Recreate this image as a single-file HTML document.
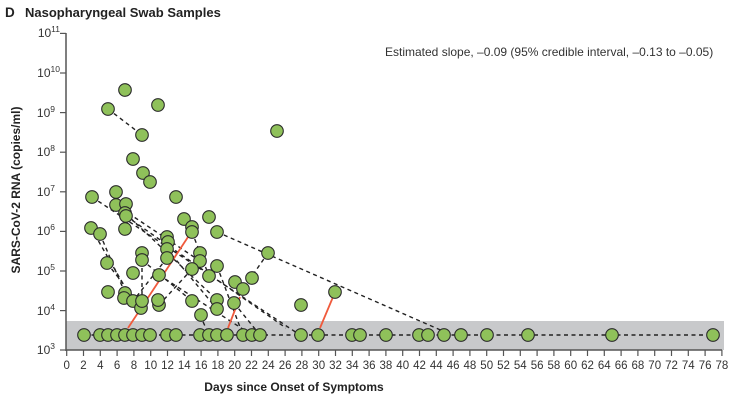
<!DOCTYPE html>
<html><head><meta charset="utf-8"><style>
html,body{margin:0;padding:0;background:#fff;}
svg{display:block;font-family:"Liberation Sans",sans-serif;}
</style></head><body>
<svg width="740" height="403" viewBox="0 0 740 403" xmlns="http://www.w3.org/2000/svg">
<text x="5" y="17" font-size="13.5" font-weight="bold" fill="#222">D</text>
<text x="25" y="17" font-size="13" font-weight="bold" fill="#222">Nasopharyngeal Swab Samples</text>
<text x="385" y="56" font-size="12" fill="#333">Estimated slope, –0.09 (95% credible interval, –0.13 to –0.05)</text>
<rect x="66" y="321" width="658" height="29" fill="#c8c9cb"/>
<g stroke="#555" stroke-width="1.5">
<line x1="66" y1="33" x2="66" y2="351"/>
<line x1="66" y1="350" x2="722" y2="350"/>
</g>
<g font-size="12" fill="#333" text-anchor="end">
<text x="55" y="354">10<tspan font-size="8.5" dy="-5">3</tspan></text>
<text x="55" y="315">10<tspan font-size="8.5" dy="-5">4</tspan></text>
<text x="55" y="275">10<tspan font-size="8.5" dy="-5">5</tspan></text>
<text x="55" y="235">10<tspan font-size="8.5" dy="-5">6</tspan></text>
<text x="55" y="196">10<tspan font-size="8.5" dy="-5">7</tspan></text>
<text x="55" y="156">10<tspan font-size="8.5" dy="-5">8</tspan></text>
<text x="55" y="117">10<tspan font-size="8.5" dy="-5">9</tspan></text>
<text x="60" y="77">10<tspan font-size="8.5" dy="-5">10</tspan></text>
<text x="60" y="37">10<tspan font-size="8.5" dy="-5">11</tspan></text>
</g>
<g stroke="#555" stroke-width="1.2">
<line x1="60" y1="350" x2="66" y2="350"/><line x1="60" y1="310.6" x2="66" y2="310.6"/><line x1="60" y1="271" x2="66" y2="271"/><line x1="60" y1="231.4" x2="66" y2="231.4"/><line x1="60" y1="191.8" x2="66" y2="191.8"/><line x1="60" y1="152.2" x2="66" y2="152.2"/><line x1="60" y1="112.6" x2="66" y2="112.6"/><line x1="60" y1="73" x2="66" y2="73"/><line x1="60" y1="33.4" x2="66" y2="33.4"/>
</g>
<g id="xt" stroke="#555" stroke-width="1.2"></g>
<g id="xl" font-size="11.5" fill="#333" text-anchor="middle"></g>
<text font-size="12" font-weight="bold" fill="#222" text-anchor="middle" transform="translate(20,190) rotate(-90)">SARS-CoV-2 RNA (copies/ml)</text>
<text x="294" y="391" font-size="12" font-weight="bold" fill="#222" text-anchor="middle">Days since Onset of Symptoms</text>
<g stroke="#222" stroke-width="1.4" stroke-dasharray="4,3.5" fill="none">
<line x1="84" y1="335" x2="713" y2="335"/>
<line x1="108" y1="109" x2="142" y2="135"/>
<line x1="92" y1="197" x2="300" y2="335"/>
<line x1="116" y1="205" x2="200" y2="261"/>
<line x1="126" y1="216" x2="286" y2="328"/>
<line x1="91" y1="228" x2="133" y2="301"/>
<line x1="100" y1="234" x2="125" y2="293"/>
<line x1="217" y1="232" x2="445" y2="332"/>
<line x1="268" y1="253" x2="243" y2="289"/>
<line x1="125" y1="213" x2="217" y2="300"/>
<line x1="142" y1="260" x2="192" y2="301"/>
<line x1="167" y1="258" x2="133" y2="301"/>
<line x1="192" y1="269" x2="159" y2="305"/>
<line x1="192" y1="232" x2="209" y2="276"/>
<line x1="107" y1="263" x2="142" y2="308"/>
<line x1="142" y1="253" x2="142" y2="301"/>
<line x1="167" y1="249" x2="217" y2="309"/>
<line x1="159" y1="275" x2="252" y2="335"/>
<line x1="200" y1="315" x2="209" y2="335"/>
<line x1="234" y1="303" x2="260" y2="335"/>
<line x1="217" y1="266" x2="243" y2="335"/>
</g>
<g stroke="#f05a3c" stroke-width="1.8">
<line x1="128" y1="328" x2="188" y2="237"/>
<line x1="228" y1="328" x2="240" y2="297"/>
<line x1="320" y1="328" x2="333" y2="297"/>
</g>
<g fill="#8fc15a" stroke="#2a2a2a" stroke-width="1.1">
<circle cx="125" cy="90" r="6.3"/><circle cx="108" cy="109" r="6.3"/><circle cx="158" cy="105" r="6.3"/><circle cx="142" cy="135" r="6.3"/><circle cx="133" cy="159" r="6.3"/><circle cx="143" cy="173" r="6.3"/><circle cx="150" cy="182" r="6.3"/><circle cx="277" cy="131" r="6.3"/>
<circle cx="92" cy="197" r="6.3"/><circle cx="116" cy="192" r="6.3"/><circle cx="116" cy="205" r="6.3"/><circle cx="126" cy="204" r="6.3"/><circle cx="125" cy="213" r="6.3"/><circle cx="126" cy="216" r="6.3"/><circle cx="91" cy="228" r="6.3"/><circle cx="100" cy="234" r="6.3"/><circle cx="125" cy="229" r="6.3"/><circle cx="107" cy="263" r="6.3"/><circle cx="108" cy="292" r="6.3"/><circle cx="125" cy="293" r="6.3"/><circle cx="124" cy="298" r="6.3"/><circle cx="133" cy="273" r="6.3"/><circle cx="133" cy="301" r="6.3"/><circle cx="142" cy="253" r="6.3"/><circle cx="142" cy="260" r="6.3"/><circle cx="141" cy="308" r="6.3"/><circle cx="142" cy="301" r="6.3"/><circle cx="159" cy="275" r="6.3"/><circle cx="159" cy="305" r="6.3"/><circle cx="158" cy="300" r="6.3"/><circle cx="167" cy="237" r="6.3"/><circle cx="168" cy="242" r="6.3"/><circle cx="167" cy="249" r="6.3"/><circle cx="167" cy="258" r="6.3"/><circle cx="176" cy="197" r="6.3"/><circle cx="184" cy="219" r="6.3"/><circle cx="192" cy="227" r="6.3"/><circle cx="192" cy="232" r="6.3"/><circle cx="200" cy="253" r="6.3"/><circle cx="200" cy="261" r="6.3"/><circle cx="192" cy="269" r="6.3"/><circle cx="209" cy="217" r="6.3"/><circle cx="217" cy="232" r="6.3"/><circle cx="217" cy="266" r="6.3"/><circle cx="209" cy="276" r="6.3"/><circle cx="192" cy="301" r="6.3"/><circle cx="201" cy="315" r="6.3"/><circle cx="217" cy="300" r="6.3"/><circle cx="217" cy="309" r="6.3"/><circle cx="235" cy="282" r="6.3"/><circle cx="234" cy="303" r="6.3"/><circle cx="243" cy="289" r="6.3"/><circle cx="252" cy="278" r="6.3"/><circle cx="268" cy="253" r="6.3"/><circle cx="301" cy="305" r="6.3"/><circle cx="335" cy="292" r="6.3"/>
<circle cx="84" cy="335" r="6.3"/><circle cx="100" cy="335" r="6.3"/><circle cx="108" cy="335" r="6.3"/><circle cx="117" cy="335" r="6.3"/><circle cx="125" cy="335" r="6.3"/><circle cx="133" cy="335" r="6.3"/><circle cx="142" cy="335" r="6.3"/><circle cx="150" cy="335" r="6.3"/><circle cx="167" cy="335" r="6.3"/><circle cx="176" cy="335" r="6.3"/><circle cx="200" cy="335" r="6.3"/><circle cx="209" cy="335" r="6.3"/><circle cx="217" cy="335" r="6.3"/><circle cx="227" cy="335" r="6.3"/><circle cx="243" cy="335" r="6.3"/><circle cx="252" cy="335" r="6.3"/><circle cx="260" cy="335" r="6.3"/><circle cx="301" cy="335" r="6.3"/><circle cx="318" cy="335" r="6.3"/><circle cx="352" cy="335" r="6.3"/><circle cx="360" cy="335" r="6.3"/><circle cx="386" cy="335" r="6.3"/><circle cx="419" cy="335" r="6.3"/><circle cx="428" cy="335" r="6.3"/><circle cx="444" cy="335" r="6.3"/><circle cx="461" cy="335" r="6.3"/><circle cx="487" cy="335" r="6.3"/><circle cx="528" cy="335" r="6.3"/><circle cx="612" cy="335" r="6.3"/><circle cx="713" cy="335" r="6.3"/>
</g>
<script>
var t=document.getElementById('xt'),l=document.getElementById('xl'),ns='http://www.w3.org/2000/svg';
for(var d=0;d<=78;d+=2){var x=66.7+d*8.4;var ln=document.createElementNS(ns,'line');ln.setAttribute('x1',x);ln.setAttribute('x2',x);ln.setAttribute('y1',350);ln.setAttribute('y2',356);t.appendChild(ln);
var tx=document.createElementNS(ns,'text');tx.setAttribute('x',x);tx.setAttribute('y',369);tx.textContent=d;l.appendChild(tx);}
</script>
</svg>
</body></html>
